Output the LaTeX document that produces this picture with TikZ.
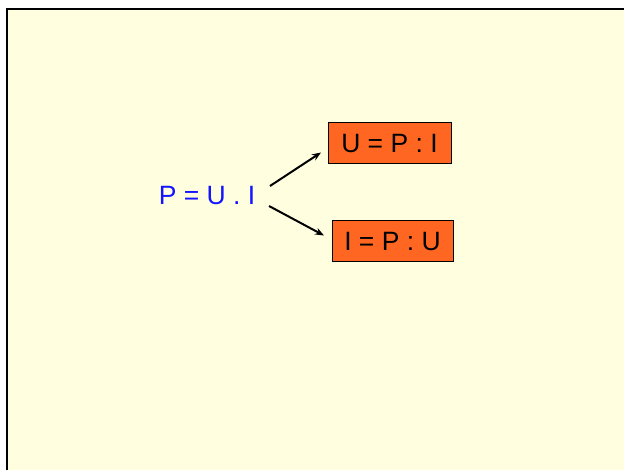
\documentclass[tikz,border=0pt]{standalone}
\usepackage{fontspec}
\setmainfont{Liberation Sans}
\usetikzlibrary{arrows.meta}
\definecolor{bgyellow}{RGB}{255,255,224}
\definecolor{boxorange}{RGB}{255,102,34}
\definecolor{formblue}{RGB}{20,20,255}
\begin{document}
\begin{tikzpicture}[x=1bp,y=-1bp,
  formbox/.style={draw=black,line width=1bp,fill=boxorange,inner sep=0pt,font=\fontsize{26.5bp}{26.5bp}\selectfont},
  arr/.style={-{Stealth[length=9bp,width=7bp]},line width=2bp}]
\useasboundingbox (0,0) rectangle (624,470);
\fill[white] (0,0) rectangle (624,470);
\fill[bgyellow] (6.5,9.5) rectangle (630,476);
\draw[line width=2bp] (6.5,476) -- (6.5,9.5) -- (630,9.5);
\node[formbox,minimum width=123bp,minimum height=41bp] (u) at (389.5,143.5) {U = P : I};
\node[formbox,minimum width=121bp,minimum height=41bp] (i) at (392.5,241.5) {I = P : U};
\node[text=formblue,font=\fontsize{26.5bp}{26.5bp}\selectfont,inner sep=0pt] (p) at (207,196) {P = U . I};
\coordinate (a1) at (270,186);
\coordinate (a2) at (269,206);
\coordinate (b1) at (321,152.5);
\coordinate (b2) at (324,235.5);
\draw[arr] (a1) -- (b1);
\draw[arr] (a2) -- (b2);
\end{tikzpicture}
\end{document}
